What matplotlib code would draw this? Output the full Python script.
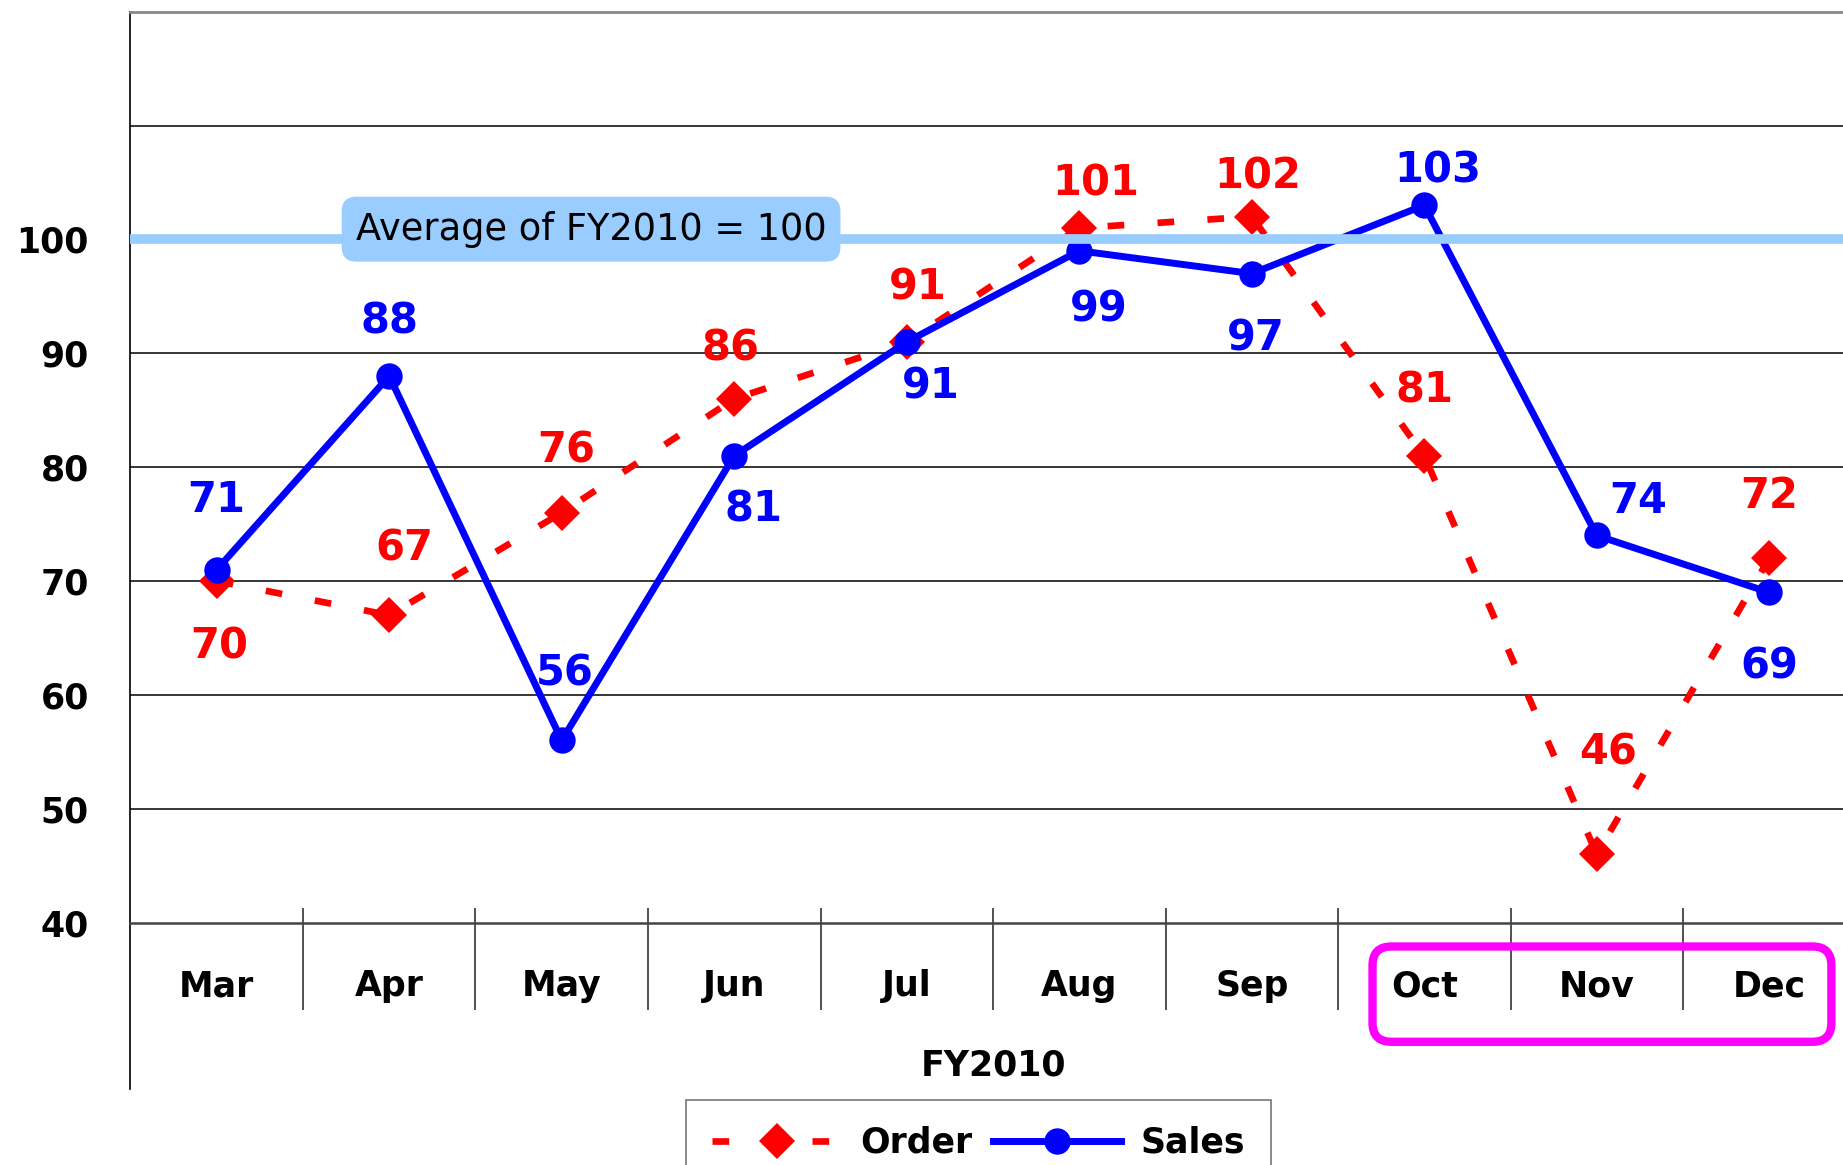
import matplotlib
matplotlib.use("Agg")
import matplotlib.pyplot as plt
from matplotlib.patches import FancyBboxPatch

plt.rcParams['font.family'] = ['DejaVu Sans', 'Noto Sans CJK JP']

# ===================================== data ==============================================================
months = ["Mar", "Apr", "May", "Jun", "Jul", "Aug", "Sep", "Oct", "Nov", "Dec"]
order = [70, 67, 76, 86, 91, 101, 102, 81, 46, 72]
sales = [71, 88, 56, 81, 91, 99, 97, 103, 74, 69]
y_ticks = [40, 50, 60, 70, 80, 90, 100]
average = 100
avg_text = "Average of FY2010 = 100"
x_title = "FY2010"

# label offsets (points) relative to each marker
order_off = [(2, -47), (11, 48), (3, 45), (-3, 36), (8, 39), (12, 32), (4, 29), (0, 47), (8, 73), (0, 45)]
sales_off = [(0, 50), (0, 39), (2, 48), (14, -39), (17, -32), (14, -42), (3, -47), (10, 25), (30, 25), (0, -53)]

RED = "#FF0000"
BLUE = "#0000FF"
LIGHT = "#99CCFF"

fig = plt.figure(figsize=(18.43, 11.65), dpi=100)
ax = fig.add_axes([0.0708, 0.208, 0.936, 0.782])
x = list(range(len(months)))

ax.set_xlim(-0.5, len(months) - 0.5)
ax.set_ylim(40, 120)

# grid
for g in [50, 60, 70, 80, 90, 100, 110]:
    ax.axhline(g, color="black", lw=1.1, zorder=1)

ax.plot(x, order, color=RED, lw=4.8, dashes=(2.5, 5), marker="D", markersize=18,
        markeredgewidth=0, label="Order", zorder=3)
ax.plot(x, sales, color=BLUE, lw=5, marker="o", markersize=19,
        markeredgewidth=0, label="Sales", zorder=4)

# average line on top
ax.axhline(average, color=LIGHT, lw=7, zorder=6)
ax.text(2.17, 100.9, avg_text, fontsize=26.5, color="black", ha="center", va="center", zorder=7,
        bbox=dict(boxstyle="round,pad=0.38,rounding_size=0.4", fc=LIGHT, ec="none"))

for i in x:
    ax.annotate(str(order[i]), (i, order[i]), xytext=order_off[i], textcoords="offset points",
                ha="center", va="center", color=RED, fontsize=30, fontweight="bold", zorder=8)
    ax.annotate(str(sales[i]), (i, sales[i]), xytext=sales_off[i], textcoords="offset points",
                ha="center", va="center", color=BLUE, fontsize=30, fontweight="bold", zorder=8)

# spines
ax.spines["right"].set_visible(False)
ax.spines["top"].set_color("#888888")
ax.spines["top"].set_linewidth(2)
ax.spines["bottom"].set_color("#444444")
ax.spines["bottom"].set_linewidth(1.8)
ax.spines["left"].set_linewidth(1.2)
ax.spines["left"].set_bounds(25.4, 120)

ax.set_yticks(y_ticks)
ax.set_yticklabels([str(v) for v in y_ticks], fontsize=25, fontweight="bold")
ax.tick_params(axis="y", length=0, pad=30)
ax.set_xticks([])

# category dividers and labels
ax.vlines([i + 0.5 for i in x[:-1]], 32.3, 41.3, color="#333333", lw=1.2, clip_on=False)
for i, m in enumerate(months):
    ax.text(i, 34.4, m, fontsize=25, fontweight="bold", ha="center", va="center", clip_on=False)
ax.text((len(months) - 1) / 2, 27.45, x_title, fontsize=25, fontweight="bold",
        ha="center", va="center", clip_on=False)

# highlight box round the last three months
hl = FancyBboxPatch((6.70, 29.54), 9.36 - 6.70, 37.91 - 29.54,
                    boxstyle="round,pad=0,rounding_size=0.11", mutation_aspect=15.05,
                    fc="none", ec="#FF00FF", lw=6, clip_on=False, zorder=5)
ax.add_patch(hl)

leg = fig.legend(loc="upper center", bbox_to_anchor=(0.531, 0.056), ncol=2,
                 frameon=True, fancybox=False, edgecolor="#555555", handlelength=3.7,
                 handletextpad=0.55, columnspacing=0.6, borderpad=0.75, borderaxespad=0,
                 numpoints=1, prop=dict(weight="bold", size=25))
leg.get_frame().set_linewidth(1.2)

fig.savefig("out.png", dpi=100)
